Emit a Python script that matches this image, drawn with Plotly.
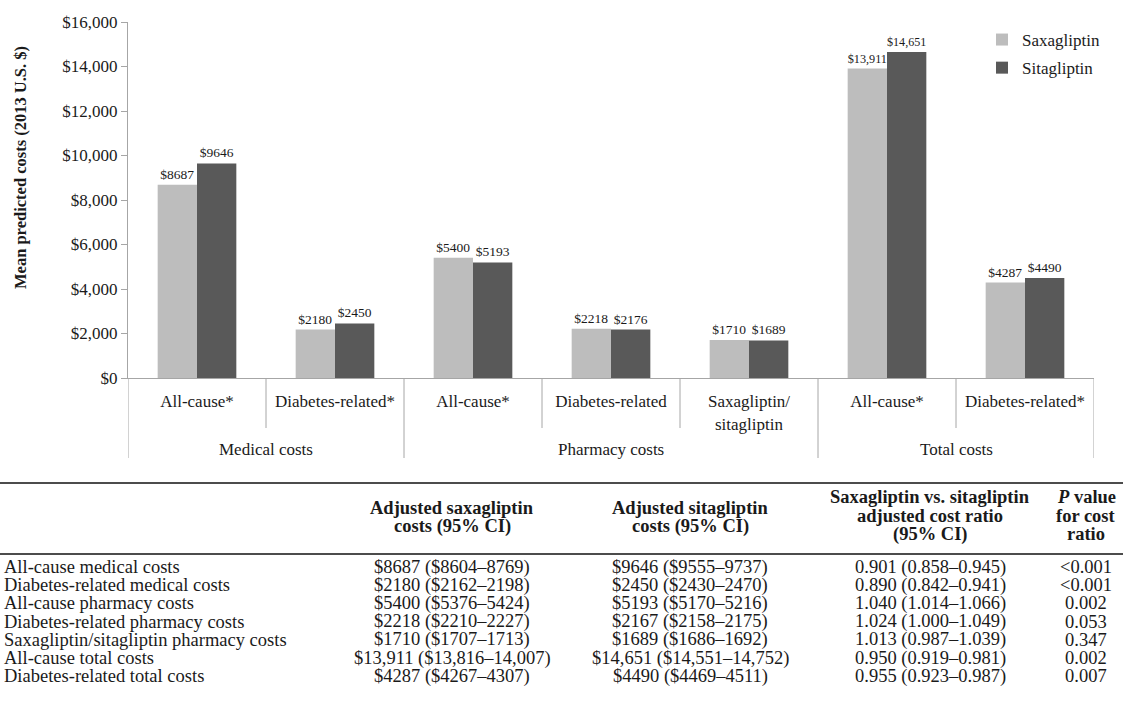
import plotly.graph_objects as go

# ---- chart data -------------------------------------------------------------
groups = ["Medical costs", "Medical costs",
          "Pharmacy costs", "Pharmacy costs", "Pharmacy costs",
          "Total costs", "Total costs"]
categories = ["All-cause*", "Diabetes-related*",
              "All-cause*", "Diabetes-related", "Saxagliptin/<br>sitagliptin",
              "All-cause*", "Diabetes-related*"]
saxagliptin = [8687, 2180, 5400, 2218, 1710, 13911, 4287]
sitagliptin = [9646, 2450, 5193, 2176, 1689, 14651, 4490]

y_ticks = [0, 2000, 4000, 6000, 8000, 10000, 12000, 14000, 16000]

# ---- table data -------------------------------------------------------------
row_labels = ["All-cause medical costs",
              "Diabetes-related medical costs",
              "All-cause pharmacy costs",
              "Diabetes-related pharmacy costs",
              "Saxagliptin/sitagliptin pharmacy costs",
              "All-cause total costs",
              "Diabetes-related total costs"]
saxa_costs = ["$8687 ($8604–8769)", "$2180 ($2162–2198)", "$5400 ($5376–5424)",
              "$2218 ($2210–2227)", "$1710 ($1707–1713)",
              "$13,911 ($13,816–14,007)", "$4287 ($4267–4307)"]
sita_costs = ["$9646 ($9555–9737)", "$2450 ($2430–2470)", "$5193 ($5170–5216)",
              "$2167 ($2158–2175)", "$1689 ($1686–1692)",
              "$14,651 ($14,551–14,752)", "$4490 ($4469–4511)"]
cost_ratio = ["0.901 (0.858–0.945)", "0.890 (0.842–0.941)", "1.040 (1.014–1.066)",
              "1.024 (1.000–1.049)", "1.013 (0.987–1.039)",
              "0.950 (0.919–0.981)", "0.955 (0.923–0.987)"]
p_values = ["<0.001", "<0.001", "0.002", "0.053", "0.347", "0.002", "0.007"]
table_headers = [
    ["Adjusted saxagliptin", "costs (95% CI)"],
    ["Adjusted sitagliptin", "costs (95% CI)"],
    ["Saxagliptin vs. sitagliptin", "adjusted cost ratio", "(95% CI)"],
    ["<i>P</i> value", "for cost", "ratio"],
]

# ---- page geometry (pixels) ---------------------------------------------------
W, H = 1123, 716
L, R, T, B = 128, 1094, 22, 378          # plot area edges
FONT = "Liberation Serif, Times New Roman, serif"
TXT = "#1a1a1a"
AXIS_GRAY = "#a6a6a6"
TABLE_SIZE = 18.5


def fx(px):
    return (px - L) / (R - L)


def fy(py):
    return (B - py) / (B - T)


def money(v):
    return f"${v:,}" if v >= 10000 else f"${v}"


keys = [f"{g}: {c}" for g, c in zip(groups, categories)]

fig = go.Figure()
fig.add_trace(go.Bar(
    name="Saxagliptin", x=keys, y=saxagliptin,
    marker=dict(color="#bdbdbd", line=dict(width=0)),
    text=[money(v) for v in saxagliptin], textposition="outside",
    textfont=dict(family=FONT, size=13.5, color=TXT),
    cliponaxis=False, legendgroup="a",
))
fig.add_trace(go.Bar(
    name="Sitagliptin", x=keys, y=sitagliptin,
    marker=dict(color="#595959", line=dict(width=0)),
    text=[money(v) for v in sitagliptin], textposition="outside",
    textfont=dict(family=FONT, size=13.5, color=TXT),
    cliponaxis=False, legendgroup="b",
))

shapes = []
annotations = []

# category boundaries under the axis
n = len(keys)
for i in range(n + 1):
    pos = i - 0.5
    is_group_edge = i == 0 or i == n or groups[i] != groups[i - 1]
    bottom = 458 if is_group_edge else 428
    shapes.append(dict(type="line", xref="x", yref="paper",
                       x0=pos, x1=pos, y0=0, y1=fy(bottom),
                       line=dict(color=AXIS_GRAY, width=1)))

# group labels
seen = []
for g in groups:
    if g not in seen:
        seen.append(g)
for g in seen:
    idx = [i for i, gg in enumerate(groups) if gg == g]
    annotations.append(dict(xref="x", yref="paper",
                            x=sum(idx) / len(idx), y=fy(449),
                            text=g, showarrow=False,
                            xanchor="center", yanchor="middle",
                            font=dict(family=FONT, size=17, color=TXT)))

# y-axis title
annotations.append(dict(xref="paper", yref="paper", x=fx(20), y=fy(168),
                        text="<b>Mean predicted costs (2013 U.S. $)</b>",
                        textangle=-90, showarrow=False,
                        xanchor="center", yanchor="middle",
                        font=dict(family=FONT, size=16.5, color=TXT)))

# ---- table ------------------------------------------------------------------
for yline in (483, 554):
    shapes.append(dict(type="line", xref="paper", yref="paper",
                       x0=fx(0), x1=fx(W), y0=fy(yline), y1=fy(yline),
                       line=dict(color="#111111", width=1.5)))

col_centers = [452, 690, 930, 1086]
line_step = 18.5
for cx, lines in zip(col_centers, table_headers):
    first = 508 if len(lines) == 2 else 497
    for k, txt in enumerate(lines):
        annotations.append(dict(xref="paper", yref="paper", x=fx(cx),
                                y=fy(first + k * line_step),
                                text=f"<b>{txt}</b>", showarrow=False,
                                xanchor="center", yanchor="middle",
                                borderpad=0,
                                font=dict(family=FONT, size=TABLE_SIZE, color=TXT)))

row_y0, row_dy = 567, 18.2
for r in range(len(row_labels)):
    yy = fy(row_y0 + r * row_dy)
    annotations.append(dict(xref="paper", yref="paper", x=fx(3), y=yy,
                            text=row_labels[r], showarrow=False,
                            xanchor="left", yanchor="middle", borderpad=0,
                            font=dict(family=FONT, size=TABLE_SIZE, color=TXT)))
    for cx, vals in zip(col_centers, [saxa_costs, sita_costs, cost_ratio, p_values]):
        annotations.append(dict(xref="paper", yref="paper", x=fx(cx), y=yy,
                                text=vals[r].replace("<", "&lt;"), showarrow=False,
                                xanchor="center", yanchor="middle", borderpad=0,
                                font=dict(family=FONT, size=TABLE_SIZE, color=TXT)))

fig.update_layout(
    width=W, height=H,
    margin=dict(l=L, r=W - R, t=T, b=H - B, autoexpand=False),
    paper_bgcolor="white", plot_bgcolor="white",
    barmode="group", bargap=0.43, bargroupgap=0,
    font=dict(family=FONT, color=TXT),
    showlegend=True,
    legend=dict(x=fx(982), y=fy(22), xanchor="left", yanchor="top",
                font=dict(family=FONT, size=17, color=TXT),
                itemwidth=30,
                bgcolor="rgba(0,0,0,0)", tracegroupgap=3),
    shapes=shapes, annotations=annotations,
)
fig.update_xaxes(
    type="category", tickvals=keys, ticktext=categories,
    showline=True, linecolor=AXIS_GRAY, linewidth=1,
    ticks="", showgrid=False, zeroline=False,
    ticklabelstandoff=8,
    tickfont=dict(family=FONT, size=17, color=TXT),
    range=[-0.5, n - 0.5],
)
fig.update_yaxes(
    range=[0, 16000], tickvals=y_ticks,
    ticktext=[f"${v:,}" for v in y_ticks],
    showline=True, linecolor=AXIS_GRAY, linewidth=1,
    ticks="outside", ticklen=6, tickcolor=AXIS_GRAY,
    showgrid=False, zeroline=False,
    tickfont=dict(family=FONT, size=17, color=TXT),
)

fig.write_html("out.html")
